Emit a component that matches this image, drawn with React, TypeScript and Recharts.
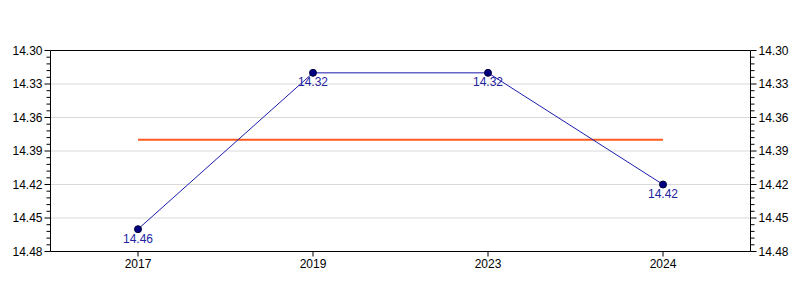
import { LineChart, Line, XAxis, YAxis, ReferenceLine, LabelList } from 'recharts'

const years = ['2017', '2019', '2023', '2024']
const values = [14.46, 14.32, 14.32, 14.42]
const averageValue = 14.38
const majorTicks = [14.3, 14.33, 14.36, 14.39, 14.42, 14.45, 14.48]

// 4 minor ticks between each pair of majors
const allTicks: number[] = []
majorTicks.forEach((t, i) => {
    allTicks.push(t)
    if (i < majorTicks.length - 1) {
        const step = (majorTicks[i + 1] - t) / 5
        for (let k = 1; k < 5; k++) allTicks.push(+(t + step * k).toFixed(4))
    }
})

const data = years.map((year, i) => ({ year, value: values[i], avg: averageValue }))

const font = '"Liberation Sans", Arial, sans-serif'

const isMajor = (v: number) => majorTicks.some((m) => Math.abs(m - v) < 1e-6)

function YTick(props: any) {
    const { x, y, payload, side } = props
    const major = isMajor(payload.value)
    const len = major ? 6 : 4
    const dir = side === 'left' ? -1 : 1
    return (
        <g>
            <line x1={x} x2={x + dir * len} y1={y} y2={y} stroke="#000" strokeWidth={1} />
            {major && (
                <text
                    x={x + dir * 8}
                    y={y}
                    dy="0.35em"
                    textAnchor={side === 'left' ? 'end' : 'start'}
                    fontSize={12}
                    fontFamily={font}
                    fill="#000"
                >
                    {payload.value.toFixed(2)}
                </text>
            )}
        </g>
    )
}

export default function App() {
    return (
        <div style={{ position: 'absolute', left: 0, top: 0, width: 800, height: 300, background: '#fff' }}>
            <LineChart width={800} height={300} data={data} margin={{ top: 50.5, right: 0, bottom: 0, left: 0 }}>
                <XAxis
                    dataKey="year"
                    scale="band"
                    height={48.5}
                    tickSize={5}
                    tickMargin={3}
                    axisLine={{ stroke: '#000', strokeWidth: 1 }}
                    tickLine={{ stroke: '#000' }}
                    tick={{ fill: '#000', fontSize: 12, fontFamily: font }}
                />
                <YAxis
                    yAxisId="left"
                    orientation="left"
                    width={50.5}
                    domain={[14.3, 14.48]}
                    reversed
                    allowDataOverflow
                    ticks={allTicks}
                    interval={0}
                    tickSize={0}
                    tickMargin={0}
                    tickLine={false}
                    axisLine={{ stroke: '#000', strokeWidth: 1 }}
                    tick={<YTick side="left" />}
                />
                <YAxis
                    yAxisId="right"
                    orientation="right"
                    width={49.5}
                    domain={[14.3, 14.48]}
                    reversed
                    allowDataOverflow
                    ticks={allTicks}
                    interval={0}
                    tickSize={0}
                    tickMargin={0}
                    tickLine={false}
                    axisLine={{ stroke: '#000', strokeWidth: 1 }}
                    tick={<YTick side="right" />}
                />
                {majorTicks.slice(1, -1).map((t) => (
                    <ReferenceLine key={t} yAxisId="left" y={t} stroke="#d9d9d9" strokeWidth={1} />
                ))}
                <ReferenceLine yAxisId="left" y={14.3} stroke="#000" strokeWidth={1} />
                <Line
                    yAxisId="left"
                    dataKey="avg"
                    stroke="#ff5a1f"
                    strokeWidth={2}
                    dot={false}
                    isAnimationActive={false}
                />
                <Line
                    yAxisId="left"
                    dataKey="value"
                    stroke="#1c1cae"
                    strokeWidth={1}
                    dot={{ r: 3.5, fill: '#000080', stroke: '#00003a', strokeWidth: 1 }}
                    isAnimationActive={false}
                >
                    <LabelList
                        dataKey="value"
                        position="bottom"
                        offset={5}
                        fill="#2323a0"
                        fontSize={12}
                        fontFamily={font}
                        formatter={(v: any) => Number(v).toFixed(2)}
                    />
                </Line>
            </LineChart>
        </div>
    )
}
